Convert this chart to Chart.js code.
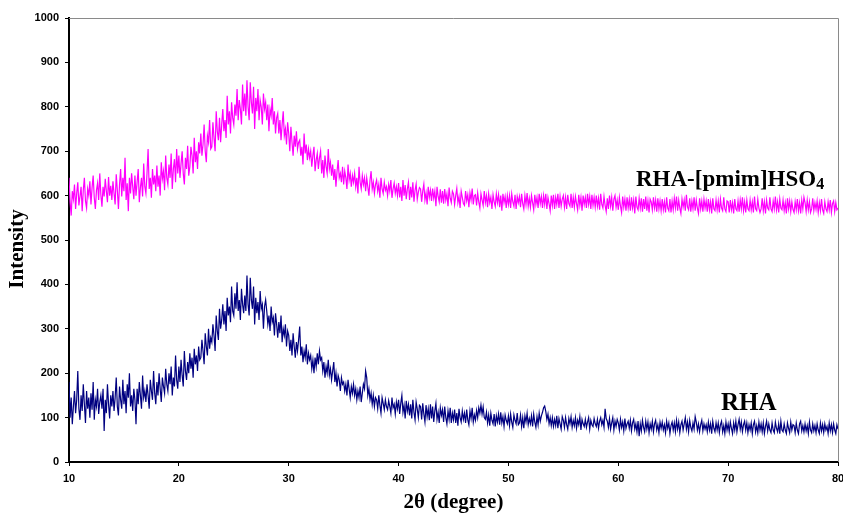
<!DOCTYPE html>
<html>
<head>
<meta charset="utf-8">
<title>XRD patterns</title>
<script src="https://cdn.jsdelivr.net/npm/chart.js@4"></script>
<style>
  html, body { margin: 0; padding: 0; background: #fff; }
  #wrap { width: 843px; height: 514px; }
</style>
</head>
<body>
<div id="wrap"><canvas id="xrdChart" width="843" height="514"></canvas></div>
<script>
// scan: 10..80 deg, one reading every 0.1 deg
const scanStart = 10;
const scanStep = 0.1;

// RHA-[pmim]HSO4 intensities (one row = 1 deg)
const rhaPmim = [
  640, 585, 555, 610, 592, 625, 570, 605, 630, 578,
  598, 620, 565, 612, 640, 588, 572, 615, 600, 632,
  580, 618, 645, 595, 570, 612, 628, 590, 650, 602,
  575, 620, 598, 638, 610, 585, 642, 600, 622, 590,
  632, 605, 580, 648, 612, 570, 625, 660, 598, 640,
  610, 685, 590, 628, 565, 640, 605, 650, 620, 592,
  645, 600, 630, 660, 585, 618, 640, 598, 672, 620,
  605, 650, 705, 615, 640, 595, 660, 625, 645, 610,
  668, 620, 645, 600, 675, 638, 655, 612, 690, 640,
  625, 670, 640, 695, 615, 660, 682, 630, 705, 650,
  690, 640, 672, 700, 650, 625, 685, 660, 712, 645,
  665, 710, 690, 650, 730, 675, 700, 660, 720, 695,
  740, 690, 715, 760, 700, 675, 735, 720, 770, 705,
  710, 765, 730, 700, 790, 745, 725, 775, 720, 760,
  795, 745, 770, 730, 825, 760, 790, 740, 810, 775,
  760, 805, 780, 840, 770, 815, 795, 760, 850, 790,
  830, 780, 860, 800, 770, 855, 810, 785, 845, 750,
  820, 790, 840, 770, 815, 800, 760, 830, 795, 810,
  770, 805, 745, 795, 780, 820, 760, 790, 740, 775,
  785, 740, 770, 725, 760, 790, 735, 750, 715, 765,
  740, 700, 755, 720, 690, 735, 710, 745, 705, 720,
  725, 690, 710, 670, 740, 695, 715, 680, 705, 685,
  700, 665, 690, 710, 655, 680, 695, 660, 685, 700,
  650, 680, 640, 690, 665, 650, 705, 660, 675, 645,
  670, 635, 660, 620, 655, 680, 640, 650, 630, 665,
  625, 655, 640, 615, 670, 635, 650, 620, 645, 630,
  650, 620, 640, 605, 665, 630, 615, 645, 625, 640,
  610, 640, 620, 600, 635, 655, 615, 630, 605, 625,
  635, 610, 625, 595, 640, 615, 605, 630, 612, 620,
  600, 625, 610, 635, 595, 615, 628, 605, 620, 600,
  628, 596, 620, 588, 635, 600, 624, 592, 615, 630,
  590, 620, 596, 630, 586, 612, 626, 592, 608, 618,
  615, 586, 610, 626, 590, 606, 580, 620, 596, 612,
  588, 616, 594, 610, 576, 620, 598, 586, 614, 584,
  610, 582, 615, 590, 604, 576, 618, 594, 584, 610,
  604, 580, 600, 616, 584, 598, 572, 610, 596, 582,
  578, 610, 588, 602, 574, 606, 590, 616, 580, 600,
  602, 578, 606, 586, 572, 604, 590, 578, 610, 584,
  600, 574, 604, 584, 596, 570, 602, 586, 576, 604,
  584, 602, 574, 600, 566, 604, 584, 598, 572, 600,
  580, 600, 572, 604, 586, 576, 602, 570, 598, 584,
  598, 574, 604, 582, 570, 600, 580, 606, 576, 594,
  574, 600, 584, 568, 602, 580, 596, 572, 604, 582,
  598, 572, 600, 580, 604, 570, 596, 582, 566, 600,
  578, 602, 570, 596, 580, 604, 572, 598, 576, 592,
  600, 574, 596, 570, 602, 582, 576, 604, 572, 596,
  574, 598, 582, 568, 602, 578, 596, 566, 600, 580,
  596, 572, 604, 580, 598, 570, 602, 578, 596, 574,
  600, 576, 594, 568, 604, 580, 572, 598, 578, 564,
  594, 570, 600, 576, 596, 566, 592, 600, 574, 590,
  568, 596, 576, 562, 598, 574, 592, 566, 596, 572,
  592, 566, 596, 572, 590, 560, 598, 574, 568, 594,
  572, 594, 564, 592, 570, 598, 566, 588, 562, 592,
  586, 568, 596, 572, 590, 564, 594, 570, 588, 566,
  592, 568, 586, 562, 596, 572, 566, 592, 562, 588,
  568, 594, 572, 598, 566, 590, 572, 560, 592, 574,
  590, 566, 602, 574, 568, 594, 564, 588, 570, 596,
  566, 590, 572, 560, 594, 570, 588, 564, 592, 572,
  588, 564, 592, 568, 586, 560, 594, 570, 566, 590,
  568, 588, 562, 592, 572, 566, 596, 570, 564, 588,
  586, 562, 590, 568, 584, 560, 592, 570, 566, 588,
  564, 590, 570, 596, 566, 586, 562, 590, 570, 566,
  590, 568, 586, 562, 598, 570, 566, 592, 572, 562,
  570, 594, 566, 586, 560, 590, 572, 568, 596, 570,
  564, 588, 570, 598, 568, 586, 562, 592, 572, 568,
  590, 566, 584, 560, 594, 570, 588, 564, 586, 569,
  562, 586, 568, 592, 566, 584, 560, 590, 570, 596,
  584, 564, 590, 568, 586, 562, 570, 594, 566, 584,
  569, 588, 562, 584, 566, 592, 568, 560, 586, 570,
  564, 586, 568, 590, 562, 582, 588, 564, 584, 568,
  572
];

// RHA intensities
const rha = [
  180, 100, 145, 85, 125, 160, 110, 140, 205, 120,
  95, 150, 115, 175, 130, 88, 160, 120, 145, 100,
  155, 118, 180, 95, 140, 125, 165, 108, 135, 150,
  120, 165, 70, 140, 110, 175, 130, 98, 150, 125,
  160, 115, 145, 190, 125, 105, 170, 140, 120, 185,
  130, 160, 110, 175, 145, 200, 125, 150, 115, 165,
  140, 85, 165, 130, 180, 150, 120, 195, 145, 160,
  135, 175, 150, 120, 185, 160, 140, 205, 155, 130,
  180, 150, 200, 165, 135, 190, 170, 155, 210, 175,
  160, 200, 175, 215, 150, 190, 170, 240, 185, 165,
  215, 180, 230, 195, 170, 250, 205, 185, 225, 200,
  245, 210, 235, 190, 255, 220, 240, 205, 260, 230,
  235, 275, 250, 220, 290, 260, 240, 300, 255, 280,
  270, 310, 285, 250, 330, 295, 275, 345, 300, 320,
  355, 310, 340, 295, 370, 330, 350, 315, 395, 340,
  330, 380, 345, 405, 340, 365, 320, 390, 355, 335,
  375, 340, 420, 355, 330, 415, 365, 345, 395, 310,
  370, 335, 360, 320, 385, 345, 355, 300, 350, 365,
  340, 310, 330, 295, 350, 315, 325, 285, 335, 310,
  280, 315, 290, 330, 270, 300, 285, 310, 260, 295,
  285, 250, 275, 240, 290, 260, 235, 270, 250, 275,
  305, 240, 260, 225, 250, 235, 265, 220, 245, 230,
  240, 210, 230, 200, 235, 215, 245, 220, 250, 230,
  235, 205, 225, 190, 215, 200, 230, 195, 210, 185,
  205, 225, 180, 200, 170, 195, 185, 160, 190, 175,
  180, 160, 175, 150, 185, 165, 145, 170, 155, 175,
  150, 165, 140, 160, 145, 170, 135, 155, 175, 165,
  205, 190, 150, 165, 140, 155, 130, 150, 125, 145,
  140, 120, 150, 128, 110, 145, 132, 118, 140, 125,
  118, 138, 125, 110, 145, 122, 130, 108, 135, 120,
  140, 108, 132, 150, 112, 128, 98, 138, 115, 130,
  105, 130, 98, 140, 112, 95, 135, 120, 100, 128,
  125, 96, 132, 108, 90, 128, 102, 120, 94, 130,
  98, 125, 90, 115, 132, 96, 112, 88, 122, 105,
  118, 90, 125, 100, 86, 115, 96, 122, 88, 110,
  95, 118, 88, 110, 82, 120, 100, 90, 115, 96,
  110, 88, 118, 95, 84, 115, 98, 122, 90, 106,
  94, 116, 100, 122, 110, 128, 108, 124, 100, 96,
  112, 88, 106, 82, 110, 94, 86, 108, 80, 104,
  90, 108, 84, 112, 88, 102, 80, 106, 94, 86,
  104, 82, 108, 90, 78, 106, 94, 86, 110, 84,
  88, 106, 80, 100, 76, 104, 90, 110, 84, 98,
  86, 104, 80, 108, 90, 78, 102, 84, 110, 92,
  104, 112, 122, 126, 114, 96, 108, 86, 100, 82,
  100, 80, 96, 82, 104, 76, 98, 86, 74, 102,
  94, 78, 100, 84, 74, 98, 86, 102, 78, 94,
  82, 100, 76, 94, 84, 102, 72, 96, 86, 80,
  96, 78, 90, 100, 74, 94, 84, 80, 98, 86,
  80, 96, 76, 92, 100, 84, 94, 78, 120, 98,
  92, 78, 98, 74, 88, 100, 72, 92, 80, 96,
  88, 72, 96, 78, 90, 70, 98, 76, 86, 92,
  76, 94, 70, 88, 96, 74, 86, 68, 92, 58,
  86, 70, 94, 78, 68, 92, 74, 90, 66, 86,
  74, 92, 68, 86, 94, 72, 84, 66, 90, 76,
  90, 72, 84, 66, 92, 76, 88, 64, 82, 90,
  72, 88, 68, 94, 74, 90, 66, 84, 92, 72,
  86, 100, 74, 90, 68, 94, 78, 70, 88, 74,
  102, 90, 72, 86, 68, 84, 94, 70, 86, 74,
  84, 68, 90, 72, 86, 64, 92, 76, 68, 88,
  72, 88, 66, 84, 92, 68, 82, 64, 90, 72,
  86, 68, 90, 76, 64, 88, 72, 92, 68, 84,
  96, 74, 90, 68, 84, 92, 72, 88, 66, 84,
  72, 88, 64, 84, 92, 68, 82, 66, 90, 72,
  86, 68, 88, 64, 80, 92, 70, 86, 72, 66,
  88, 72, 66, 90, 76, 68, 86, 64, 92, 72,
  68, 86, 72, 64, 88, 76, 66, 90, 72, 84,
  82, 66, 88, 72, 64, 86, 92, 70, 82, 68,
  86, 70, 82, 64, 90, 72, 66, 86, 70, 82,
  66, 86, 72, 64, 88, 70, 84, 66, 86, 72,
  80, 64, 88, 70, 84, 66, 86, 72, 64, 84,
  74
];

const xTicks = [10, 20, 30, 40, 50, 60, 70, 80];
const yTicks = [0, 100, 200, 300, 400, 500, 600, 700, 800, 900, 1000];

function toPoints(values) {
  return values.map((v, i) => ({ x: +(scanStart + i * scanStep).toFixed(1), y: v }));
}

// frame, axis titles and curve labels
const decorations = {
  id: 'decorations',
  afterDraw(chart) {
    const { ctx, chartArea: a } = chart;
    ctx.save();
    // grey top / right border
    ctx.strokeStyle = '#8a8a8a';
    ctx.lineWidth = 1;
    ctx.beginPath();
    ctx.moveTo(a.left, a.top + 0.5);
    ctx.lineTo(a.right + 0.5, a.top + 0.5);
    ctx.lineTo(a.right + 0.5, a.bottom);
    ctx.stroke();

    ctx.fillStyle = '#000';
    ctx.font = 'bold 21px "Liberation Serif", "Times New Roman", serif';
    ctx.textAlign = 'center';
    ctx.textBaseline = 'middle';
    ctx.fillText('2\u03b8 (degree)', (a.left + a.right) / 2, 503);

    ctx.save();
    ctx.translate(18, 249);
    ctx.rotate(-Math.PI / 2);
    ctx.fillText('Intensity', 0, 0);
    ctx.restore();

    // curve labels
    ctx.textAlign = 'left';
    ctx.textBaseline = 'alphabetic';
    ctx.font = 'bold 23px "Liberation Serif", "Times New Roman", serif';
    const main = 'RHA-[pmim]HSO';
    ctx.fillText(main, 636, 186);
    const w = ctx.measureText(main).width;
    ctx.font = 'bold 16px "Liberation Serif", "Times New Roman", serif';
    ctx.fillText('4', 636 + w, 189);

    ctx.font = 'bold 25px "Liberation Serif", "Times New Roman", serif';
    ctx.fillText('RHA', 721, 410);
    ctx.restore();
  }
};

const tickFont = { family: '"Liberation Sans", Arial, sans-serif', size: 11, weight: 'bold' };

new Chart(document.getElementById('xrdChart'), {
  type: 'line',
  data: {
    datasets: [
      {
        label: 'RHA-[pmim]HSO4',
        data: toPoints(rhaPmim),
        borderColor: '#ff00ff',
        borderWidth: 1.2,
        pointRadius: 0,
        tension: 0
      },
      {
        label: 'RHA',
        data: toPoints(rha),
        borderColor: '#000080',
        borderWidth: 1.2,
        pointRadius: 0,
        tension: 0
      }
    ]
  },
  options: {
    responsive: false,
    animation: false,
    events: [],
    layout: { padding: { top: 18, right: 5, left: 0, bottom: 0 } },
    plugins: { legend: { display: false }, tooltip: { enabled: false } },
    scales: {
      x: {
        type: 'linear',
        min: 10,
        max: 80,
        afterFit: (s) => { s.height = 52; s.paddingLeft = 0; s.paddingRight = 0; },
        afterBuildTicks: (s) => { s.ticks = xTicks.map(v => ({ value: v })); },
        border: { color: '#000', width: 2 },
        grid: { drawOnChartArea: false, color: '#000', tickLength: 4 },
        ticks: { color: '#000', font: tickFont, padding: 6, maxRotation: 0, callback: (v) => String(v) }
      },
      y: {
        min: 0,
        max: 1000,
        afterFit: (s) => { s.width = 69; s.paddingTop = 0; s.paddingBottom = 0; },
        afterBuildTicks: (s) => { s.ticks = yTicks.map(v => ({ value: v })); },
        border: { color: '#000', width: 2 },
        grid: { drawOnChartArea: false, color: '#000', tickLength: 4 },
        ticks: { color: '#000', font: tickFont, padding: 6, callback: (v) => String(v) }
      }
    }
  },
  plugins: [decorations]
});
</script>
</body>
</html>
